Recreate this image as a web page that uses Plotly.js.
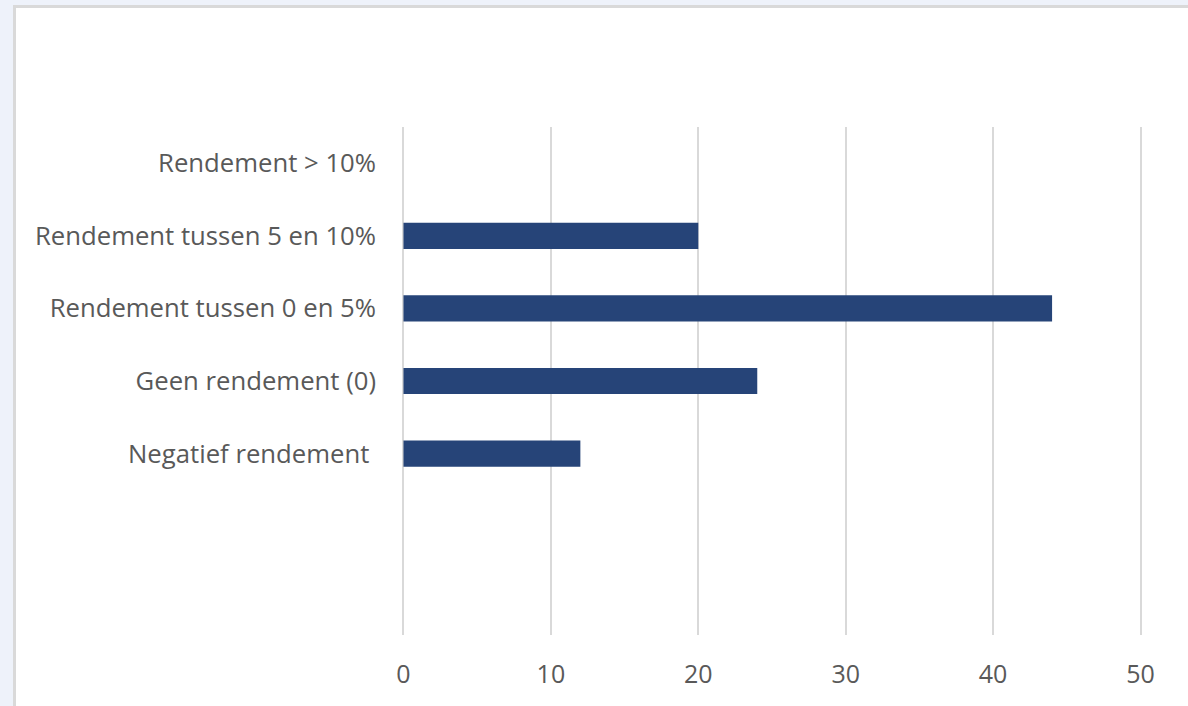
<!DOCTYPE html>
<html>
<head>
<meta charset="utf-8">
<script src="https://cdn.plot.ly/plotly-3.0.1.min.js"></script>
<style>
  html, body { margin: 0; padding: 0; width: 1188px; height: 706px; overflow: hidden; background: #eef2fa; }
  #frame { position: absolute; left: 13px; top: 5px; width: 1175px; height: 701px; background: #d9d9d9; }
  #chart { position: absolute; left: 16px; top: 8px; width: 1172px; height: 698px; background: #ffffff; }
</style>
</head>
<body>
<div id="frame"></div>
<div id="chart"></div>
<script>
const categories = ["Rendement > 10%", "Rendement tussen 5 en 10%", "Rendement tussen 0 en 5%", "Geen rendement (0)", "Negatief rendement\u00a0"];
const values = [0, 20, 44, 24, 12];
const xTicks = [0, 10, 20, 30, 40, 50];

const trace = {
  type: 'bar',
  orientation: 'h',
  y: categories,
  x: values,
  marker: { color: '#264478' },
  hoverinfo: 'x+y'
};

const layout = {
  width: 1172,
  height: 698,
  margin: { l: 386, r: 46, t: 119, b: 71, pad: 0 },
  paper_bgcolor: '#ffffff',
  plot_bgcolor: '#ffffff',
  showlegend: false,
  bargap: 0.64,
  font: { family: 'Open Sans, sans-serif', size: 26, color: '#595959' },
  xaxis: {
    range: [-0.1, 50.1],
    tickvals: xTicks,
    ticktext: xTicks.map(String),
    showgrid: true,
    gridcolor: '#d9d9d9',
    gridwidth: 2,
    zeroline: false,
    showline: false,
    ticks: '',
    ticklabelstandoff: 22,
    tickfont: { family: 'Open Sans, sans-serif', size: 25, color: '#595959' },
    fixedrange: true
  },
  yaxis: {
    type: 'category',
    categoryorder: 'array',
    categoryarray: categories,
    range: [6.5, -0.5],
    showgrid: false,
    zeroline: false,
    showline: false,
    ticks: '',
    ticklabelstandoff: 25,
    tickfont: { family: 'Open Sans, sans-serif', size: 25.7, color: '#595959' },
    fixedrange: true
  }
};

Plotly.newPlot('chart', [trace], layout, { displayModeBar: false, staticPlot: true });
</script>
</body>
</html>
